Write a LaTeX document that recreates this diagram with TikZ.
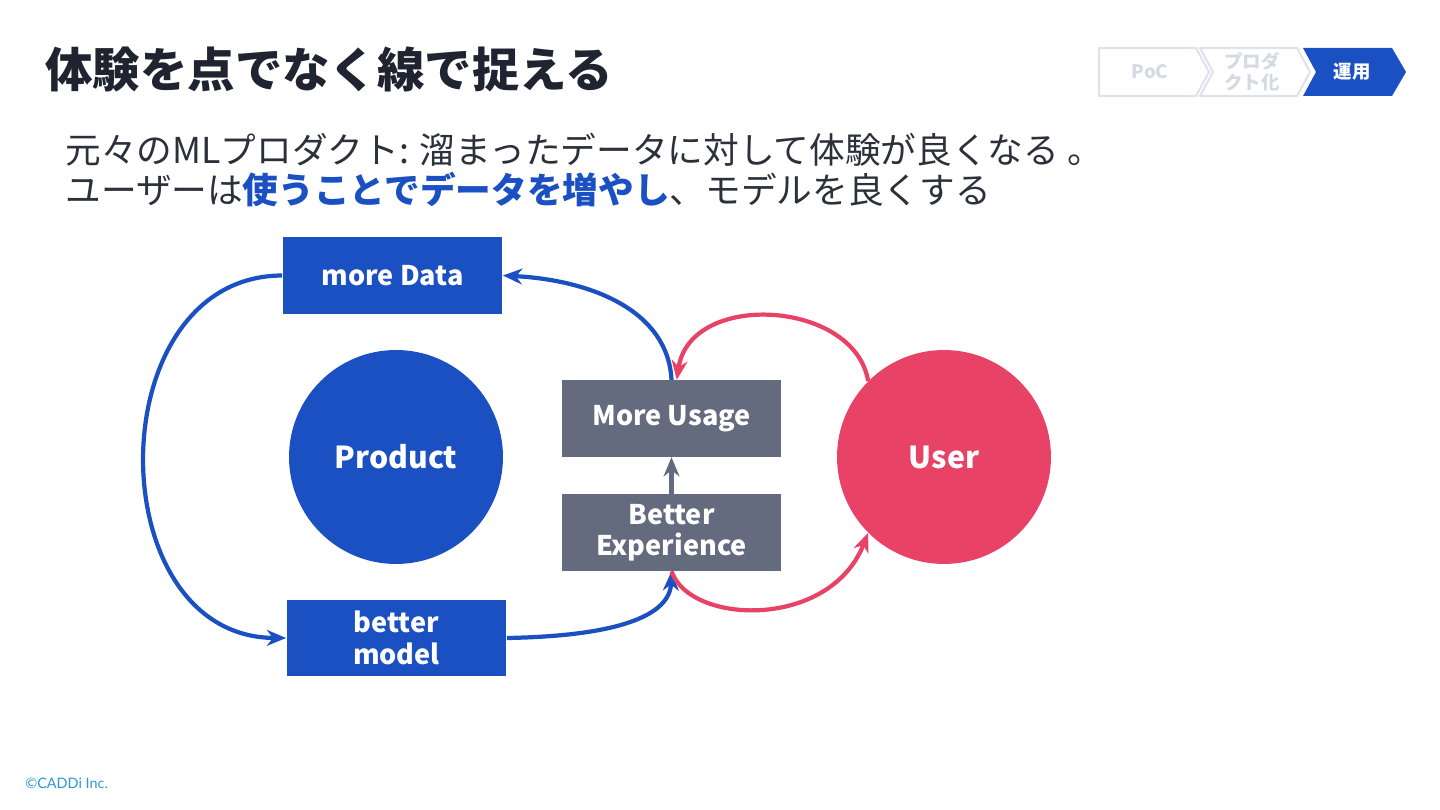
\documentclass[tikz,border=0pt]{standalone}
\usepackage{fontspec}
\setmainfont{Noto Sans CJK JP}
\newfontfamily\latofont{Lato}
\usetikzlibrary{arrows.meta, positioning}
\definecolor{caddiblue}{HTML}{1A50C2}
\definecolor{userred}{HTML}{E84266}
\definecolor{boxgray}{HTML}{646B7E}
\definecolor{titleink}{HTML}{1F2430}
\definecolor{bodyink}{HTML}{2B303B}
\definecolor{stepline}{HTML}{E0E3ED}
\definecolor{steptext}{HTML}{D5D9E3}
\definecolor{copyink}{HTML}{2E96D4}

\begin{document}
\begin{tikzpicture}[x=0.02cm, y=-0.02cm,
    bluebox/.style={fill=caddiblue, text=white, font=\bfseries\fontsize{15.4}{18}\selectfont, minimum width=4.4cm, minimum height=1.53cm, align=center, inner sep=0pt},
    graybox/.style={bluebox, fill=boxgray},
    bigdot/.style={circle, minimum size=4.28cm, text=white, font=\bfseries\fontsize{17.2}{21}\selectfont, inner sep=0pt},
    flow/.style={line width=2.4pt, -{Stealth[length=11pt, width=9pt, inset=3.5pt]}},
    stepoff/.style={fill=white, draw=stepline, line width=1.2pt},
    steplabel/.style={text=steptext, font=\bfseries\fontsize{10.5}{12}\selectfont, align=center}]
  \useasboundingbox (0,0) rectangle (1440,810);

  % title and lead text
  \node[anchor=west, text=titleink, font=\bfseries\fontsize{27}{32}\selectfont, inner sep=0pt] (title) at (45,70) {体験を点でなく線で捉える};
  \node[anchor=west, text=bodyink, font=\fontsize{20.3}{24}\selectfont, inner sep=0pt] (lead1) at (65,150) {元々のMLプロダクト: 溜まったデータに対して体験が良くなる 。};
  \node[anchor=west, text=bodyink, font=\fontsize{20.3}{24}\selectfont, inner sep=0pt] (lead2) at (65,190) {ユーザーは{\color{caddiblue}\bfseries 使うことでデータを増やし}、モデルを良くする};

  % phase steps
  \draw[stepoff] (1099,48) -- (1196,48) -- (1209,72) -- (1196,96) -- (1099,96) -- cycle;
  \draw[stepoff] (1200,48) -- (1297,48) -- (1310,72) -- (1297,96) -- (1200,96) -- (1213,72) -- cycle;
  \fill[caddiblue] (1303,48) -- (1392,48) -- (1406,72) -- (1392,96) -- (1303,96) -- (1316,72) -- cycle;
  \node[steplabel] (poc) at (1150,72) {PoC};
  \node[steplabel] (prod) at (1252,72) {プロダ\\クト化};
  \node[steplabel, text=white] (ops) at (1352,72) {運用};

  % nodes
  \node[bluebox] (data) at (392.5,275.5) {more Data};
  \node[bluebox] (model) at (396.5,638) {better\\model};
  \node[bigdot, fill=caddiblue] (product) at (396,457) {Product};
  \node[graybox] (usage) at (671.5,418.5) {More Usage};
  \node[graybox, below=0.74cm of usage] (exp) {Better\\Experience};
  \node[bigdot, fill=userred] (user) at (944,457) {User};

  % product loop
  \draw[flow, caddiblue] (data.west) .. controls (98,276) and (98,637) .. (model.west);
  \draw[flow, caddiblue] (model.east) .. controls (620,636) and (670,615) .. (exp.south);
  \draw[flow, caddiblue] (usage.north) .. controls (668,310) and (590,280) .. (data.east);

  % user loop
  \draw[flow, userred] (exp.south) .. controls (690,625) and (830,630) .. (user.225);
  \draw[flow, userred] (user.135) .. controls (855,300) and (690,290) .. ([xshift=3pt]usage.north);
  \draw[flow, boxgray] (exp.north) -- (usage.south);

  \node[anchor=west, text=copyink, font=\latofont\fontsize{8.2}{10}\selectfont, inner sep=0pt] (copy) at (25,783) {©CADDi Inc.};
\end{tikzpicture}
\end{document}
